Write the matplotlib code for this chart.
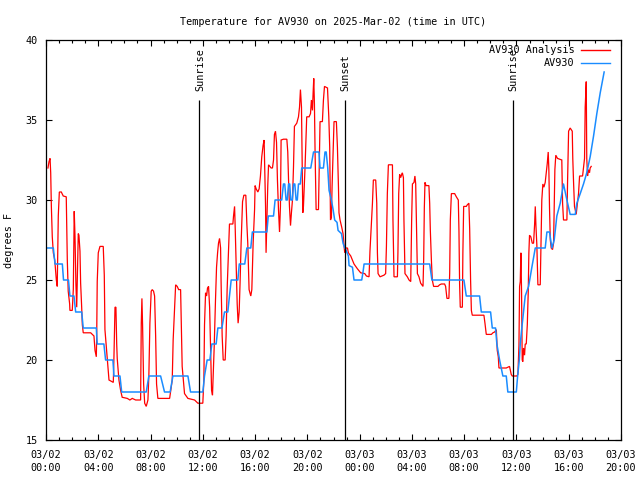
import matplotlib
matplotlib.use("Agg")
import matplotlib.pyplot as plt

title = "Temperature for AV930 on 2025-Mar-02 (time in UTC)"
ylabel = "degrees F"
series_names = ["AV930 Analysis", "AV930"]

# hours since 03/02 00:00 UTC
red_hours = [0.15, 0.23, 0.31, 0.36, 0.41, 0.48, 0.56, 0.67, 0.79, 0.86, 0.94, 1.02, 1.17, 1.32, 1.55, 1.58,
             1.63, 1.70, 1.81, 1.83, 2.01, 2.09, 2.16, 2.22, 2.29, 2.35, 2.39, 2.47, 2.52, 2.60, 2.65, 2.73,
             2.78, 2.85, 3.42, 3.54, 3.67, 3.75, 3.85, 3.88, 3.92, 4.00, 4.13, 4.38, 4.46, 4.51, 4.64, 4.74,
             4.82, 5.15, 5.20, 5.28, 5.35, 5.41, 5.45, 5.58, 5.71, 5.83, 6.22, 6.42, 6.60, 6.86, 7.24, 7.29,
             7.34, 7.39, 7.47, 7.55, 7.67, 7.80, 7.87, 7.95, 8.05, 8.13, 8.23, 8.31, 8.39, 8.46, 8.56, 9.46,
             9.66, 9.73, 9.84, 9.92, 10.04, 10.15, 10.30, 10.34, 10.42, 10.60, 10.86, 11.37, 11.62, 12.00, 12.08,
             12.13, 12.21, 12.29, 12.36, 12.44, 12.52, 12.59, 12.67, 12.74, 12.79, 12.87, 12.97, 13.05, 13.13,
             13.20, 13.28, 13.36, 13.40, 13.48, 13.56, 13.71, 13.78, 13.86, 13.97, 14.04, 14.30, 14.35, 14.43,
             14.47, 14.55, 14.63, 14.70, 14.78, 14.85, 14.93, 15.04, 15.14, 15.29, 15.37, 15.44, 15.54, 15.67,
             15.75, 15.85, 15.96, 16.00, 16.08, 16.21, 16.31, 16.41, 16.51, 16.61, 16.69, 16.74, 16.80, 16.84,
             16.92, 16.97, 17.03, 17.23, 17.33, 17.41, 17.48, 17.56, 17.64, 17.71, 17.79, 17.87, 17.94, 17.99,
             18.17, 18.43, 18.50, 18.56, 18.63, 18.71, 18.78, 18.86, 18.94, 19.01, 19.19, 19.32, 19.40, 19.47,
             19.55, 19.59, 19.65, 19.70, 19.82, 19.95, 20.13, 20.24, 20.31, 20.39, 20.44, 20.49, 20.54, 20.59,
             20.67, 20.85, 20.89, 20.97, 21.15, 21.23, 21.31, 21.54, 21.64, 21.71, 21.77, 21.84, 21.89, 21.97,
             22.04, 22.22, 22.30, 22.38, 22.42, 22.50, 22.63, 22.73, 22.81, 22.86, 22.94, 23.07, 23.14, 23.32,
             23.57, 23.83, 24.08, 24.39, 24.52, 24.72, 24.79, 24.98, 25.05, 25.23, 25.31, 25.36, 25.41, 25.56,
             25.86, 25.99, 26.05, 26.12, 26.20, 26.51, 26.55, 26.63, 26.89, 26.93, 26.99, 27.06, 27.14, 27.22,
             27.27, 27.35, 27.39, 27.47, 27.65, 27.78, 27.91, 27.98, 28.04, 28.16, 28.23, 28.29, 28.34, 28.42,
             28.54, 28.67, 28.85, 28.90, 28.95, 29.00, 29.08, 29.15, 29.30, 29.36, 29.41, 29.49, 29.56, 29.66,
             29.99, 30.12, 30.25, 30.50, 30.58, 30.68, 30.83, 30.89, 30.94, 31.02, 31.27, 31.40, 31.55, 31.60,
             31.65, 31.70, 31.86, 31.90, 31.96, 32.16, 32.24, 32.36, 32.42, 32.49, 32.55, 32.62, 33.51, 33.59,
             33.69, 34.08, 34.20, 34.33, 34.46, 34.53, 34.61, 34.66, 35.22, 35.47, 35.60, 35.68, 36.03, 36.11,
             36.19, 36.24, 36.29, 36.34, 36.39, 36.44, 36.49, 36.54, 36.62, 36.67, 36.75, 36.83, 36.90, 36.95,
             37.00, 37.10, 37.21, 37.31, 37.39, 37.44, 37.49, 37.56, 37.64, 37.82, 37.87, 37.94, 38.02, 38.10,
             38.20, 38.28, 38.36, 38.43, 38.48, 38.53, 38.59, 38.66, 38.76, 38.84, 38.89, 38.94, 39.01, 39.14,
             39.47, 39.53, 39.60, 39.86, 39.91, 39.99, 40.11, 40.27, 40.31, 40.37, 40.44, 40.57, 40.67, 40.75,
             40.83, 41.06, 41.13, 41.21, 41.26, 41.34, 41.38, 41.44, 41.51, 41.59, 41.64, 41.72]
red_temps = [32.0, 32.4, 32.6, 31.7, 29.6, 27.7, 26.7, 26.25, 25.0, 24.6, 29.0, 30.5, 30.5, 30.25, 30.2, 28.75,
             26.25, 24.3, 23.5, 23.1, 23.1, 24.4, 29.3, 27.7, 24.7, 23.3, 24.8, 27.9, 27.8, 26.8, 24.8, 23.3,
             22.2, 21.7, 21.7, 21.6, 21.5, 20.6, 20.2, 21.5, 24.9, 26.7, 27.1, 27.1, 25.3, 21.9, 20.6, 19.6,
             18.75, 18.6, 20.2, 23.3, 23.3, 21.0, 20.1, 18.75, 18.1, 17.67, 17.6, 17.5, 17.6, 17.5, 17.5, 22.3,
             23.85, 22.2, 18.5, 17.3, 17.1, 17.5, 19.0, 22.3, 24.3, 24.4, 24.3, 24.0, 21.5, 18.5, 17.6, 17.6,
             18.75, 21.25, 23.3, 24.7, 24.6, 24.4, 24.4, 22.7, 19.6, 17.9, 17.6, 17.5, 17.3, 17.3, 18.75,
             22.2, 24.2, 24.0, 24.5, 24.6, 23.3, 21.0, 18.1, 17.8, 19.0, 20.8, 23.75, 25.8, 26.7,
             27.3, 27.6, 27.0, 24.8, 21.5, 20.0, 20.0, 21.5, 24.4, 26.9, 28.5, 28.5, 29.0, 29.6,
             28.5, 26.0, 23.5, 22.3, 23.0, 24.8, 27.3, 29.9, 30.3, 30.3, 28.5, 27.3, 24.4, 24.0,
             24.4, 27.3, 29.4, 30.9, 30.7, 30.5, 30.7, 31.5, 32.7, 33.4, 33.75, 31.9, 29.6, 26.7,
             29.2, 30.9, 32.2, 32.0, 32.0, 32.5, 34.1, 34.3, 33.6, 31.25, 29.4, 28.0, 29.6, 33.75,
             33.8, 33.8, 33.0, 31.25, 29.6, 28.4, 29.2, 30.0, 32.1, 34.6, 34.8, 35.2, 35.8, 36.9,
             35.8, 33.0, 29.2, 29.6, 32.0, 35.2, 35.2, 35.4, 36.25, 35.6, 36.7, 37.6, 36.0, 33.0,
             29.4, 29.4, 31.2, 34.9, 34.9, 36.25, 37.1, 37.0, 35.2, 33.3, 28.75, 28.9, 30.8, 32.9,
             34.9, 34.9, 33.3, 30.8, 29.2, 28.75, 28.3, 27.9, 27.1, 26.7, 27.0, 27.0, 26.7, 26.5,
             26.0, 25.7, 25.45, 25.4, 25.25, 25.2, 26.8, 29.8, 31.25, 31.25, 29.8, 26.7, 25.4, 25.2,
             25.3, 25.4, 27.1, 30.4, 32.2, 32.2, 28.75, 25.2, 25.2, 26.7, 30.4, 31.6, 31.4, 31.6,
             31.7, 31.4, 28.75, 25.4, 25.2, 25.0, 24.9, 28.75, 31.0, 31.1, 31.5, 31.0, 28.75, 25.4,
             25.2, 24.8, 24.6, 26.25, 29.5, 31.1, 30.9, 30.9, 30.9, 29.8, 28.1, 26.25, 25.0, 24.6,
             24.6, 24.7, 24.75, 24.75, 24.6, 23.85, 23.85, 25.4, 28.75, 30.4, 30.4, 30.2, 30.0, 28.1,
             24.75, 23.3, 23.3, 26.7, 29.6, 29.6, 29.7, 29.8, 28.2, 25.0, 23.1, 22.8, 22.8, 22.3,
             21.6, 21.6, 21.7, 21.75, 21.9, 20.6, 20.2, 19.5, 19.5, 19.6, 19.1, 19.0, 19.0, 19.1,
             20.9, 24.6, 24.9, 26.7, 24.3, 20.0, 19.9, 20.75, 20.3, 21.0, 21.0, 22.2, 24.2, 26.7,
             27.8, 27.7, 27.3, 27.3, 28.5, 29.6, 28.4, 27.2, 24.7, 24.7, 26.9, 30.0, 31.0, 30.8,
             31.1, 31.7, 32.3, 33.0, 31.9, 29.5, 27.5, 27.0, 26.9, 27.3, 29.8, 31.9, 32.8, 32.6,
             32.5, 29.8, 28.75, 28.75, 31.1, 34.3, 34.5, 34.3, 32.6, 31.1, 29.6, 29.1, 29.8, 30.4,
             31.5, 31.5, 32.0, 32.6, 35.8, 37.4, 32.6, 31.5, 31.9, 31.7, 32.0, 32.1]

blue_hours = [0.00, 0.56, 0.69, 1.25, 1.34, 1.72, 1.83, 2.14, 2.27, 2.73, 2.85, 3.85, 3.92, 4.43, 4.56, 5.12,
              5.20, 5.66, 5.79, 7.67, 7.87, 8.77, 9.07, 9.50, 9.71, 10.86, 11.06, 12.00, 12.13, 12.33, 12.54,
              12.69, 13.02, 13.15, 13.46, 13.66, 13.91, 14.04, 14.17, 14.68, 14.79, 15.21, 15.37, 15.67, 15.79,
              16.90, 17.01, 17.41, 17.53, 18.04, 18.17, 18.27, 18.37, 18.46, 18.56, 18.65, 18.73, 18.85, 18.94,
              19.04, 19.14, 19.23, 19.32, 19.46, 19.57, 20.26, 20.47, 20.89, 20.97, 21.23, 21.35, 21.44, 21.56,
              21.66, 21.84, 21.97, 22.09, 22.27, 22.35, 22.61, 22.73, 22.86, 22.94, 23.14, 23.19, 23.45, 23.57,
              24.16, 24.26, 24.34, 29.36, 29.53, 31.98, 32.16, 33.18, 33.31, 34.02, 34.15, 34.40, 34.50, 34.71,
              34.96, 35.22, 35.34, 35.99, 36.09, 36.22, 36.29, 36.41, 36.54, 36.67, 36.93, 37.18, 37.44, 38.20,
              38.33, 38.53, 38.71, 38.89, 39.09, 39.35, 39.60, 39.86, 40.11, 40.50, 40.62, 40.88, 41.13, 41.38,
              41.64, 41.90, 42.15, 42.41, 42.71]
blue_temps = [27, 27, 26, 26, 25, 25, 24, 24, 23, 23, 22, 22, 21, 21, 20, 20,
              19, 19, 18, 18, 19, 19, 18, 18, 19, 19, 18, 18, 19, 20, 20,
              21, 21, 22, 22, 23, 23, 24, 25, 25, 26, 26, 27, 27, 28,
              28, 29, 29, 30, 30, 31, 31, 30, 30, 31, 31, 30, 30, 31,
              31, 30, 30, 31, 31, 32, 32, 33, 33, 32, 32, 33, 33, 32,
              30.6, 30, 29.4, 28.75, 28.6, 28.1, 27.9, 27.3, 27.0, 26.9, 26.5, 25.9, 25.8, 25,
              25, 25.5, 26, 26, 25, 25, 24, 24, 23, 23, 22, 22, 21, 20,
              19, 19, 18, 18, 19, 20, 21, 22, 23, 24, 24.6, 25.8, 27, 27,
              28, 28, 27, 27.5, 29, 29.8, 31, 30, 29.1, 29.1, 29.8, 30.4, 31, 31.7,
              32.7, 34, 35.4, 36.7, 38]

event_names = ["Sunrise", "Sunset", "Sunrise"]
event_hours = [11.74, 22.88, 35.73]

xtick_hours = [0, 4, 8, 12, 16, 20, 24, 28, 32, 36, 40, 44]
xtick_labels = ["03/02\n00:00", "03/02\n04:00", "03/02\n08:00", "03/02\n12:00", "03/02\n16:00",
                "03/02\n20:00", "03/03\n00:00", "03/03\n04:00", "03/03\n08:00", "03/03\n12:00",
                "03/03\n16:00", "03/03\n20:00"]
ytick_values = [15, 20, 25, 30, 35, 40]

RED = "#ff0000"
BLUE = "#1a8cff"
FONT = "DejaVu Sans Mono"
FS = 7.3

plt.rcParams["font.family"] = FONT
fig = plt.figure(figsize=(6.4, 4.8), dpi=100)
ax = fig.add_axes([46 / 640, 1 - 440 / 480, 575 / 640, 400 / 480])

ax.plot(red_hours, red_temps, color=RED, lw=0.9, solid_joinstyle="miter")
ax.plot(blue_hours, blue_temps, color=BLUE, lw=1.1)

for name, h in zip(event_names, event_hours):
    ax.vlines(h, 15, 36.25, color="black", lw=0.9)
    ax.text(h + 0.05, 36.8, name, rotation=90, ha="center", va="bottom", fontsize=FS)

ax.set_xlim(0, 44)
ax.set_ylim(15, 40)
ax.set_xticks(xtick_hours)
ax.set_xticklabels(xtick_labels, fontsize=FS, linespacing=1.35)
ax.set_xticks(range(0, 45), minor=True)
ax.set_yticks(ytick_values)
ax.set_yticklabels([str(v) for v in ytick_values], fontsize=FS)
ax.tick_params(which="both", direction="in", top=True, right=True, width=0.8)
ax.tick_params(axis="x", which="both", pad=7)
ax.tick_params(axis="y", which="both", pad=6)
ax.tick_params(which="major", length=4.5)
ax.tick_params(which="minor", length=2.5)
for s in ax.spines.values():
    s.set_linewidth(0.9)

ax.set_title(title, fontsize=FS, pad=11)
ax.set_ylabel(ylabel, fontsize=FS, labelpad=8)

# legend (top right, text right-aligned, sample line to the right)
for i, (name, col) in enumerate(zip(series_names, [RED, BLUE])):
    yy = 0.974 - i * 0.031
    ax.text(0.9188, yy, name, transform=ax.transAxes, ha="right", va="center", fontsize=FS)
    ax.plot([0.931, 0.981], [yy, yy], transform=ax.transAxes, color=col, lw=1.0)

fig.savefig("out.png", dpi=100)
